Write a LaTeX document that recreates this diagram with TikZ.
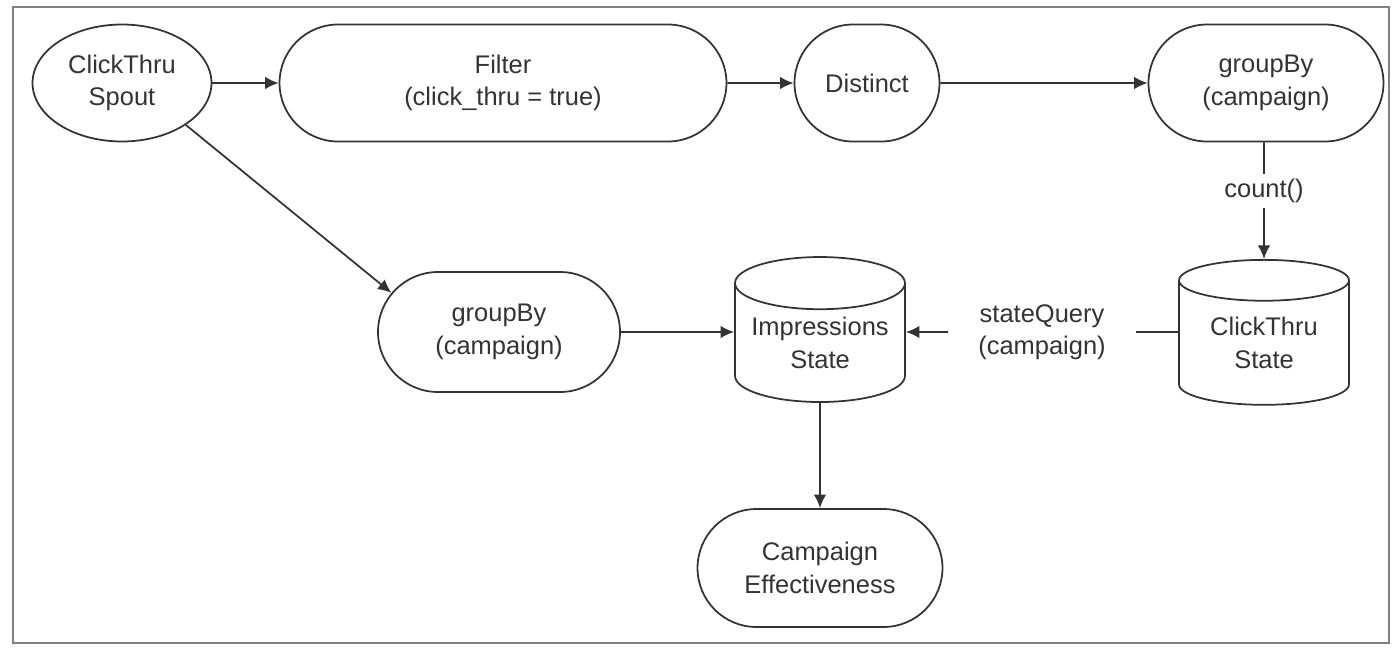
\documentclass[tikz,border=0pt]{standalone}
\usepackage{fontspec}
\setmainfont{Liberation Sans}
\usetikzlibrary{arrows,arrows.meta,positioning,shapes.geometric,shapes.misc}
\definecolor{ink}{HTML}{333333}
\tikzstyle{sp}=[ellipse,draw=ink,line width=1pt,minimum width=3.58cm,minimum height=2.34cm,inner sep=0pt,align=center,text=ink,font=\fontsize{14.5}{18.5}\selectfont]
\tikzstyle{op}=[rounded rectangle,draw=ink,line width=1pt,minimum height=2.34cm,inner sep=0pt,align=center,text=ink,font=\fontsize{14.5}{18.5}\selectfont]
\tikzstyle{st}=[cylinder,shape border rotate=90,aspect=0.38,draw=ink,line width=1pt,minimum width=3.4cm,minimum height=2.9cm,inner sep=0pt,align=center,text=ink,font=\fontsize{14.5}{18.5}\selectfont]
\tikzstyle{lbl}=[fill=white,inner sep=3pt,align=center,text=ink,font=\fontsize{14.5}{18.5}\selectfont]
\tikzstyle{flow}=[draw=ink,line width=1pt,-{Latex[length=2.7mm,width=2.5mm]}]
\begin{document}
\begin{tikzpicture}[x=0.02cm,y=-0.02cm]
                \useasboundingbox (0,0) rectangle (1394,647);
                \draw[gray,line width=1.3pt] (13,7) rectangle (1389,643);
                \draw (122,83) node[sp] (spout) {ClickThru\\Spout};
                \draw (503,83) node[op,minimum width=8.94cm] (filter) {Filter\\(click\_thru = true)};
                \draw (867,83) node[op,minimum width=2.9cm] (distinct) {Distinct};
                \draw (1266,83) node[op,minimum width=4.7cm] (grp1) {groupBy\\(campaign)};
                \draw (1264,343) node[st] (cts) {ClickThru\\State};
                \draw (820,343) node[st] (imp) {Impressions\\State};
                \draw (499,332) node[op,minimum width=4.84cm,minimum height=2.4cm] (grp2) {groupBy\\(campaign)};
                \draw (820,568) node[op,minimum width=4.9cm,minimum height=2.36cm] (eff) {Campaign\\Effectiveness};
                \path
                    (spout) edge[flow] (filter)
                    (filter) edge[flow] (distinct)
                    (distinct) edge[flow] (grp1)
                    (spout.south east) edge[flow] (grp2.160)
                    (grp2) edge[flow] (imp.west |- grp2)
                    (grp1.south -| cts) edge[flow] node[lbl,pos=0.42]{count()} (cts)
                    (cts.west |- grp2) edge[flow] node[lbl,inner xsep=0.6cm]{stateQuery\\(campaign)} (imp.east |- grp2)
                    (imp) edge[flow] (eff)
                ;
        \end{tikzpicture}
\end{document}
